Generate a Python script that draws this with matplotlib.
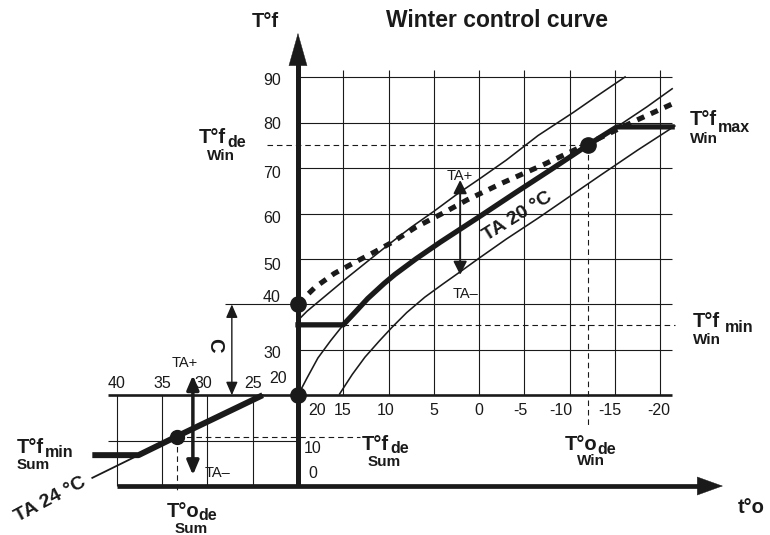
import numpy as np
import matplotlib.pyplot as plt
from matplotlib.transforms import offset_copy

plt.rcParams['font.family'] = ['Liberation Sans', 'DejaVu Sans']
ink = '#1a1a1a'

# outdoor temp t°o (°C) and flow temp T°f (°C)
win_T = [20, 19, 17.8, 16.4, 15.0, 13.5, 12.3, 10.5, 9.3, 7.0, 4.3, 0.0, -4.0, -8.0, -12.0, -15.2, -18.5, -21.3]
win_Tf = [20, 23.8, 28.2, 32.0, 35.5, 38.7, 41.3, 44.6, 46.6, 50.0, 53.7, 59.3, 64.6, 69.8, 75.1, 79.1, 83.5, 87.5]
up_T = [20, 19, 17.8, 16, 14.5, 12, 9.8, 7.5, 5, 2.5, 0, -3, -6.5, -10.4, -13, -16.1]
up_Tf = [36.5, 38.5, 40.5, 43.5, 46.0, 50.0, 53.5, 57.0, 60.5, 64.2, 67.6, 71.8, 77.2, 82.3, 85.9, 90.1]
lo_T = [15.4, 14, 12.6, 11, 9.6, 8, 6, 4, 2.3, 0, -3, -6.5, -10, -13.5, -17.5, -21.6]
lo_Tf = [20.3, 24.6, 28.4, 32.0, 35.0, 38.2, 41.6, 44.5, 46.9, 50.2, 54.4, 59.0, 63.8, 68.6, 74.0, 79.3]
dash_T = [20, 18.1, 16, 13.7, 11.5, 9.6, 7, 4.0, 1.35, -2.5, -7.0, -12, -17.4, -21.8]
dash_Tf = [40.1, 43.8, 46.8, 49.3, 51.6, 53.7, 57.0, 60.1, 63.0, 66.7, 70.7, 75.4, 80.6, 84.6]
sum_T = [23.9, 33.4, 37.6, 42.7]
sum_Tf = [20, 10.9, 6.8, 1.8]

Tf_min_win, Tf_max_win = 35.5, 79.1
Tf_min_sum = 6.8
To_de_win, Tf_de_win = -12.0, 75.1
To_de_sum, Tf_de_sum = 33.4, 10.9
C_lo, C_hi = 20, 40

win_xticks = [15, 10, 5, 0, -5, -10, -15, -20]
sum_xticks = [40, 35, 30, 25]
win_yticks = [90, 80, 70, 60, 50, 40, 30, 20]
win_hlines = [30, 40, 50, 60, 70, 80, 90]

fig = plt.figure(figsize=(7.7, 5.35), dpi=100)
ax = fig.add_axes([0, 0, 1, 1])
ax.set_xlim(52.89, -32.10)
ax.set_ylim(-10.79, 107.05)
ax.axis('off')

# grids
ax.vlines(win_xticks, 20, 91.6, color=ink, lw=0.8)
ax.hlines(win_hlines, 20, -21.3, color=ink, lw=0.8)
ax.vlines(sum_xticks, 0, 20, color=ink, lw=0.8)
ax.hlines(10, 41, 20, color=ink, lw=0.8)
ax.hlines(20, 41, -21.3, color=ink, lw=1.9)
ax.hlines(C_hi, 28.1, 20, color=ink, lw=0.8)

# main axes with arrow heads
ax.plot([20, 20], [0, 93], color=ink, lw=3.6, solid_capstyle='butt', zorder=4)
ax.annotate('', xy=(20, 99.8), xytext=(20, 88),
            arrowprops=dict(arrowstyle='-|>,head_length=2.3,head_width=0.65', lw=0.3,
                            color=ink, shrinkA=0, shrinkB=0, mutation_scale=10), zorder=4)
ax.plot([40, -24.2], [0, 0], color=ink, lw=3.4, solid_capstyle='butt', zorder=4)
ax.annotate('', xy=(-26.9, 0), xytext=(-22, 0),
            arrowprops=dict(arrowstyle='-|>,head_length=1.8,head_width=0.65', lw=0.3,
                            color=ink, shrinkA=0, shrinkB=0, mutation_scale=10), zorder=4)

# reference dashed lines
dsh = dict(color=ink, lw=0.8, ls=(0, (5, 3.5)))
ax.plot([23.4, To_de_win], [Tf_de_win, Tf_de_win], **dsh)
ax.plot([To_de_win, To_de_win], [Tf_de_win, 13.0], **dsh)
ax.plot([15, -21.6], [Tf_min_win, Tf_min_win], **dsh)
ax.plot([To_de_sum, 13.2], [Tf_de_sum, Tf_de_sum], **dsh)
ax.plot([To_de_sum, To_de_sum], [Tf_de_sum, -1.5], **dsh)

# winter curves
ax.plot(up_T, up_Tf, color=ink, lw=1.15, zorder=3)
ax.plot(lo_T, lo_Tf, color=ink, lw=1.15, zorder=3)
ax.plot(win_T, win_Tf, color=ink, lw=1.15, zorder=3)
ax.plot(win_T, np.clip(win_Tf, Tf_min_win, Tf_max_win), color=ink, lw=3.8,
        solid_joinstyle='round', zorder=3)
ax.plot(dash_T, dash_Tf, color=ink, lw=3.7, ls=(0, (1.5, 1.4)), zorder=3)

# summer curve
ax.plot(sum_T, sum_Tf, color=ink, lw=1.3, zorder=3)
ax.plot(sum_T, np.clip(sum_Tf, Tf_min_sum, None), color=ink, lw=4.3,
        solid_capstyle='butt', zorder=3)

# dots
ax.plot([20, 20, To_de_win], [20, C_hi, Tf_de_win], 'o', ms=11, color=ink, zorder=5)
ax.plot([To_de_sum], [Tf_de_sum], 'o', ms=10, color=ink, zorder=5)


# TA+/TA- and C arrows
def darrow(x, y0, y1, lw, hl, hw):
    ax.annotate('', xy=(x, y1), xytext=(x, y0),
                arrowprops=dict(arrowstyle=f'<|-|>,head_length={hl},head_width={hw}', lw=lw,
                                color=ink, shrinkA=0, shrinkB=0, mutation_scale=10), zorder=4)


darrow(2.1, 46.5, 67.4, 1.4, 0.8, 0.4)
darrow(31.6, 2.4, 24.4, 2.5, 0.85, 0.36)
darrow(27.3, C_lo, C_hi, 1.0, 0.8, 0.35)

# tick numbers
num = dict(fontsize=11.5, color=ink, ha='center', va='baseline')
win_xpos = [15.03, 10.29, 4.99, 0.02, -4.5, -9.03, -14.44, -19.85]
for v, p in zip(win_xticks, win_xpos):
    ax.text(p, 15.64, str(v), **num)
for v in sum_xticks:
    ax.text(v + (0.4 if v == 30 else 0), 21.5, str(v), **num)
win_ybase = [88.3, 78.57, 67.77, 57.86, 47.58, 40.6, 28.1, 22.6]
for v, b in zip(win_yticks, win_ybase):
    ax.text(22.87 if v != 20 else 22.15, b, str(v), **num)
ax.text(17.9, 15.64, '20', **num)
ax.text(18.34, 7.27, '10', **num)
ax.text(18.34, 1.76, '0', **num)

# labels
bold = dict(color=ink, fontweight='bold', va='baseline', ha='left')
ax.text(25.08, 101.1, 'T°f', fontsize=14.5, **bold)
ax.text(-2.02, 101.1, 'Winter control curve', fontsize=16.5, color=ink, fontweight='bold',
        ha='center', va='baseline')
ax.text(-28.57, -5.95, 't°o', fontsize=14.5, **bold)


def compound(x, y, main, sub, under, sdx, sdy, udx, udy):
    ax.text(x, y, main, fontsize=14.5, **bold)
    ax.text(x, y, sub, fontsize=11.5,
            transform=offset_copy(ax.transData, fig, x=sdx, y=-sdy, units='dots'), **bold)
    ax.text(x, y, under, fontsize=11,
            transform=offset_copy(ax.transData, fig, x=udx, y=-udy, units='dots'), **bold)


compound(30.93, 75.55, 'T°f', 'de', 'Win', 28, 4, 8, 17)
compound(-23.27, 79.52, 'T°f', 'max', 'Win', 28, 7, 0, 18)
compound(-23.6, 35.02, 'T°f', 'min', 'Win', 32, 5, 0, 17)
compound(51.02, 7.27, 'T°f', 'min', 'Sum', 28, 4, 0, 16)
compound(34.46, -6.83, 'T°o', 'de', 'Sum', 31, 3, 8, 16)
compound(12.94, 7.93, 'T°f', 'de', 'Sum', 28, 3, 6, 16)
compound(-9.47, 7.93, 'T°o', 'de', 'Win', 32, 4, 12, 15)

small = dict(fontsize=10.5, color=ink, ha='left', va='baseline')
ax.text(3.55, 67.4, 'TA+', **small)
ax.text(2.89, 41.4, 'TA–', **small)
ax.text(33.9, 26.2, 'TA+', **small)
ax.text(30.26, 1.98, 'TA–', **small)

ax.text(-4.28, 59.25, 'TA 20 °C', fontsize=14, color=ink, fontweight='bold',
        ha='center', va='center', rotation=32, rotation_mode='anchor')
ax.text(47.3, -3.08, 'TA 24 °C', fontsize=14, color=ink, fontweight='bold',
        ha='center', va='center', rotation=28, rotation_mode='anchor')
ax.text(29.16, 31.06, 'C', fontsize=14.5, color=ink, fontweight='bold',
        ha='center', va='center', rotation=-90)

fig.savefig('out.png', dpi=100)
